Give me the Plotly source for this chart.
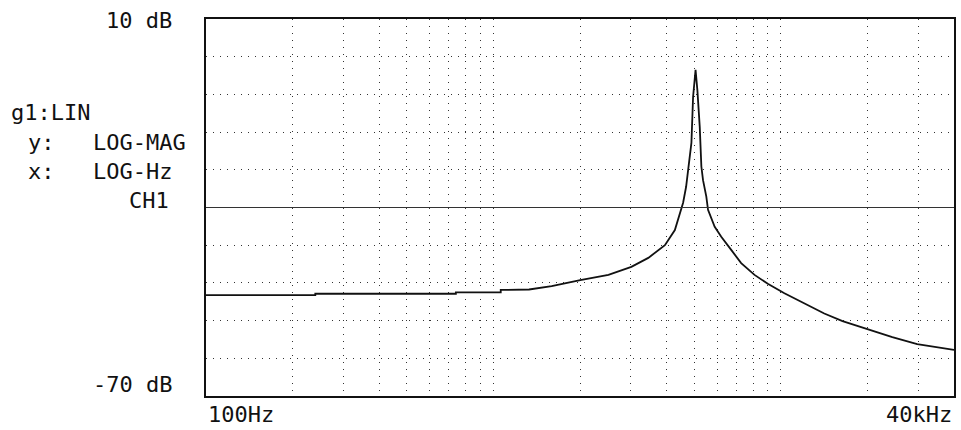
import plotly.graph_objects as go
import numpy as np

# ---- data ----
freq_hz = [100, 240, 240, 740, 740, 1060, 1060, 1330, 1594, 2004, 2511, 3017, 3456,
           3948, 4276, 4496, 4568, 4679, 4754, 4882, 4948, 5047, 5121, 5219, 5287,
           5358, 5501, 5577, 5883, 6200, 6715, 7272, 8094, 9001, 10283, 13063,
           14150, 16378, 19990, 24402, 29785, 34943, 40000]
mag_db = [-48.6, -48.6, -48.3, -48.3, -48.0, -48.0, -47.5, -47.4, -46.7, -45.4, -44.3,
          -42.6, -40.7, -38.0, -34.8, -30.5, -29.0, -25.6, -22.0, -16.3, -6.5, -0.8,
          -5.1, -12.9, -21.3, -24.2, -27.7, -30.5, -34.1, -36.2, -39.0, -41.8, -44.3,
          -46.2, -48.2, -51.4, -52.5, -54.1, -55.8, -57.5, -59.0, -59.7, -60.2]

y_top_db = 10
y_bottom_db = -70
y_div_db = 8
f_start = 100
f_stop = 40000
ref_level_db = -30
x_grid_hz = [200, 300, 400, 500, 600, 700, 800, 900,
             1000, 2000, 3000, 4000, 5000, 6000, 7000, 8000, 9000,
             10000, 20000, 30000]

top_label = "10 dB"
bottom_label = "-70 dB"
start_label = "100Hz"
stop_label = "40kHz"
info_lines = ["g1:LIN", "y:", "LOG-MAG", "x:", "LOG-Hz", "CH1"]

# ---- figure ----
W, H = 961, 430
L, R, T, B = 206, 5, 19, 34
pw, ph = W - L - R, H - T - B

def px(x):
    return (x - L) / pw

def py(y):
    return (H - B - y) / ph

FONT = dict(family="DejaVu Sans Mono", size=22, color="#111111")

fig = go.Figure()
fig.add_trace(go.Scatter(x=freq_hz, y=mag_db, mode="lines",
                         line=dict(color="#111111", width=1.8),
                         showlegend=False, hoverinfo="skip"))

fig.add_shape(type="line", xref="paper", yref="y", x0=0, x1=1,
              y0=ref_level_db, y1=ref_level_db,
              line=dict(color="#333333", width=1))

grid_style = dict(showgrid=True, gridcolor="#333333", gridwidth=1.2,
                  griddash="1px,6px", zeroline=False, showticklabels=False,
                  ticks="", showline=True, linecolor="#111111", linewidth=2,
                  mirror=True)

fig.update_xaxes(type="log", range=[np.log10(f_start), np.log10(f_stop)],
                 tickmode="array", tickvals=x_grid_hz, **grid_style)
fig.update_yaxes(range=[y_bottom_db, y_top_db], tickmode="linear",
                 tick0=y_bottom_db, dtick=y_div_db, **grid_style)

ann = []
def label(text, x, y, xanchor):
    ann.append(dict(text=text, x=px(x), y=py(y), xref="paper", yref="paper",
                    xanchor=xanchor, yanchor="middle", showarrow=False,
                    font=FONT))

label(top_label, 174, 21, "right")
label(bottom_label, 174, 384, "right")
label(start_label, 206, 414, "left")
label(stop_label, 956, 415, "right")
label(info_lines[0], 8, 112, "left")
label(info_lines[1], 26, 142, "left")
label(info_lines[2], 188, 142, "right")
label(info_lines[3], 26, 171, "left")
label(info_lines[4], 174, 171, "right")
label(info_lines[5], 171, 200, "right")

fig.update_layout(width=W, height=H, margin=dict(l=L, r=R, t=T, b=B),
                  paper_bgcolor="white", plot_bgcolor="white",
                  annotations=ann, showlegend=False)

fig.write_html("out.html")
